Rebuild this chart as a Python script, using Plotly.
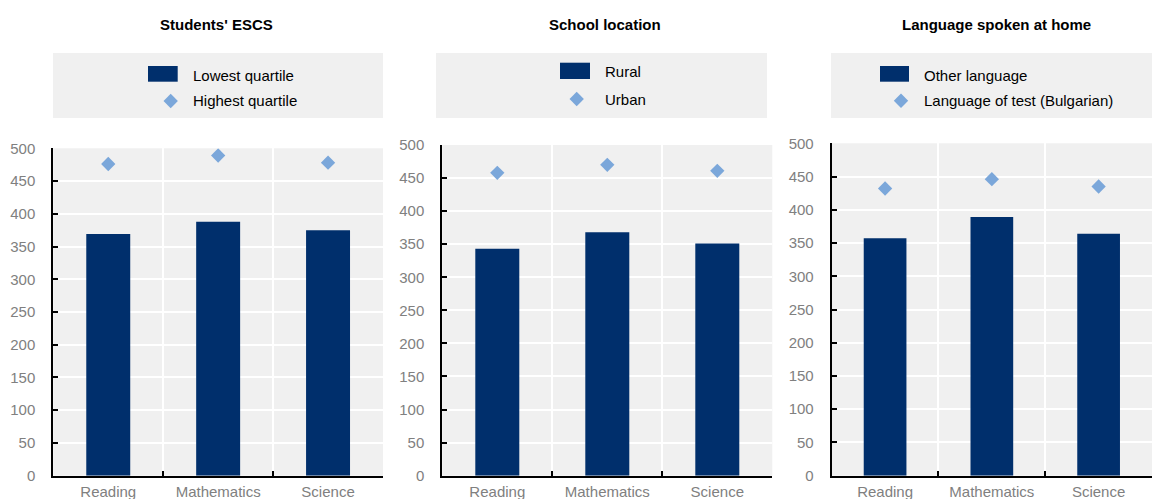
import plotly.graph_objects as go

W, H = 1152, 499

# Subjects on the category axis
subjects = ["Reading", "Mathematics", "Science"]

# Panel titles
panel_titles = ["Students' ESCS", "School location", "Language spoken at home"]

# Mean scores per group (bars = disadvantaged group, diamonds = comparison group)
escs_lowest = [369, 388, 375]
escs_highest = [476, 489, 478]

rural = [343, 368, 351]
urban = [458, 470, 461]

other_language = [357, 389, 364]
test_language = [432, 446, 435]

bar_names = ["Lowest quartile", "Rural", "Other language"]
marker_names = ["Highest quartile", "Urban", "Language of test (Bulgarian)"]

y_ticks = [0, 50, 100, 150, 200, 250, 300, 350, 400, 450, 500]

BAR_COLOR = "#002F6C"
DIAMOND_COLOR = "#7BA7DA"
PANEL_BG = "#F0F0F0"
FONT = "Liberation Sans, Arial, sans-serif"


def px_x(x):
    return x / W


def px_y(y):
    return 1 - y / H


bar_series = [escs_lowest, rural, other_language]
marker_series = [escs_highest, urban, test_language]

# Plot-area geometry of each panel, in pixels: (left, right, top, bottom)
panels = [
    (53.3, 383.0, 148.3, 475.7),
    (442.3, 772.3, 145.0, 475.7),
    (831.7, 1152.0, 143.3, 475.7),
]
title_x = [216, 604.5, 996.7]

# Legend layout per panel: box, bar swatch, diamond, text start and row centres
legend_boxes = [(53, 383), (436, 767), (831, 1152)]
legend_swatch = [(148, 177.7, 66, 81.7), (560, 590, 62.7, 79), (880, 909, 66, 81.7)]
legend_diamond = [(170.7, 101), (576.7, 99), (901, 100.7)]
legend_text_x = [192.3, 604.3, 923.3]
legend_rows = [(75, 100.7), (71, 99.3), (75, 100.7)]

fig = go.Figure()
layout = dict(
    width=W,
    height=H,
    margin=dict(l=0, r=0, t=0, b=0, pad=0),
    paper_bgcolor="white",
    plot_bgcolor=PANEL_BG,
    showlegend=False,
    font=dict(family=FONT, size=15, color="#000000"),
    bargap=0.6,
)

annotations = []
shapes = []

for i in range(3):
    xa = "x" if i == 0 else f"x{i + 1}"
    ya = "y" if i == 0 else f"y{i + 1}"
    left, right, top, bottom = panels[i]

    fig.add_trace(go.Bar(
        x=subjects, y=bar_series[i], name=bar_names[i],
        marker=dict(color=BAR_COLOR, line=dict(width=0)),
        width=0.4, xaxis=xa, yaxis=ya,
    ))
    fig.add_trace(go.Scatter(
        x=subjects, y=marker_series[i], name=marker_names[i], mode="markers",
        marker=dict(symbol="diamond", size=11, color=DIAMOND_COLOR),
        xaxis=xa, yaxis=ya,
    ))

    key = "" if i == 0 else str(i + 1)
    layout["xaxis" + key] = dict(
        domain=[px_x(left), px_x(right)],
        anchor=ya,
        type="category",
        range=[-0.5, 2.5],
        automargin=False,
        tickson="boundaries",
        ticks="inside",
        ticklen=5,
        tickwidth=2,
        tickcolor="#000000",
        showline=True,
        linecolor="#000000",
        linewidth=2,
        showgrid=True,
        gridcolor="white",
        gridwidth=2,
        tickfont=dict(family=FONT, size=15, color="#808080"),
        ticklabelstandoff=1,
        fixedrange=True,
    )
    layout["yaxis" + key] = dict(
        domain=[px_y(bottom), px_y(top)],
        anchor=xa,
        range=[0, 500],
        automargin=False,
        tickvals=y_ticks,
        ticks="inside",
        ticklen=5,
        tickwidth=2,
        tickcolor="#000000",
        showline=True,
        linecolor="#000000",
        linewidth=2,
        showgrid=True,
        gridcolor="white",
        gridwidth=2,
        zeroline=False,
        tickfont=dict(family=FONT, size=15, color="#808080"),
        ticklabelstandoff=13,
        fixedrange=True,
    )

    # Panel title
    annotations.append(dict(
        text=f"<b>{panel_titles[i]}</b>", x=px_x(title_x[i]), y=px_y(24),
        xref="paper", yref="paper", xanchor="center", yanchor="middle",
        showarrow=False, font=dict(family=FONT, size=15, color="#000000"),
    ))

    # Legend box
    bx0, bx1 = legend_boxes[i]
    shapes.append(dict(
        type="rect", xref="paper", yref="paper",
        x0=px_x(bx0), x1=px_x(bx1), y0=px_y(118), y1=px_y(53),
        fillcolor=PANEL_BG, line=dict(width=0), layer="below",
    ))
    sx0, sx1, sy0, sy1 = legend_swatch[i]
    shapes.append(dict(
        type="rect", xref="paper", yref="paper",
        x0=px_x(sx0), x1=px_x(sx1), y0=px_y(sy1), y1=px_y(sy0),
        fillcolor=BAR_COLOR, line=dict(width=0),
    ))
    dx, dy = legend_diamond[i]
    r = 7.2
    shapes.append(dict(
        type="path", xref="paper", yref="paper",
        path=(f"M {px_x(dx - r)},{px_y(dy)} L {px_x(dx)},{px_y(dy - r)} "
              f"L {px_x(dx + r)},{px_y(dy)} L {px_x(dx)},{px_y(dy + r)} Z"),
        fillcolor=DIAMOND_COLOR, line=dict(width=0),
    ))
    row1, row2 = legend_rows[i]
    for label, yy in ((bar_names[i], row1), (marker_names[i], row2)):
        annotations.append(dict(
            text=label, x=px_x(legend_text_x[i] - 1), y=px_y(yy),
            xref="paper", yref="paper", xanchor="left", yanchor="middle",
            showarrow=False, font=dict(family=FONT, size=15, color="#000000"),
        ))

layout["annotations"] = annotations
layout["shapes"] = shapes
fig.update_layout(**layout)

fig.write_html("out.html")
